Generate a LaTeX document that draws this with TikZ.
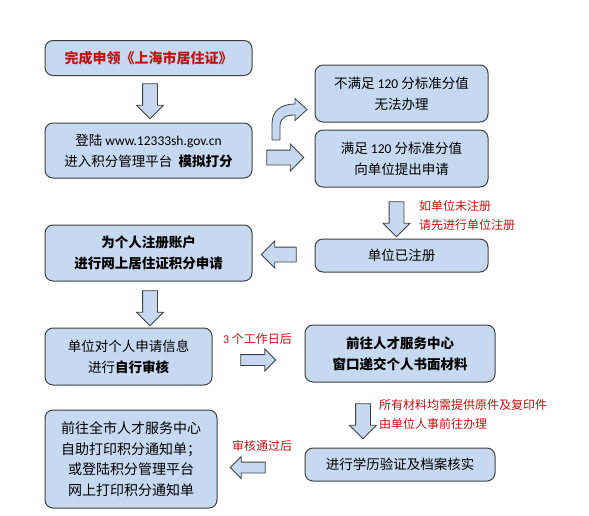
\documentclass[tikz,border=0pt]{standalone}
\usepackage{fontspec}
\setmainfont{Noto Sans CJK SC}
\newfontfamily\lat{Carlito}
\usetikzlibrary{shapes.arrows}
\definecolor{boxblue}{RGB}{198,217,241}
\definecolor{boxline}{RGB}{64,64,64}
\definecolor{notered}{RGB}{190,20,20}
\newcommand{\boxfont}{\fontsize{13.5}{21}\selectfont}
\newcommand{\notefont}{\fontsize{12}{19}\selectfont}

\begin{document}
\begin{tikzpicture}[x=1pt, y=-1pt,
    stepbox/.style={draw=boxline, fill=boxblue, rounded corners=8pt, line width=1pt,
        align=center, inner sep=0pt, font=\boxfont},
    blockarrow/.style={single arrow, draw=boxline, fill=boxblue, line width=0.8pt,
        inner xsep=0pt, inner ysep=7pt, single arrow head extend=6pt, minimum height=35pt,
        shape border uses incircle=false},
    thinarrow/.style={blockarrow, inner ysep=5pt, single arrow head extend=5.5pt},
    note/.style={text=notered, font=\notefont, align=left, anchor=west, inner sep=0pt}]
    \useasboundingbox (0,0) rectangle (589,515);

    % Boxes
    \node[stepbox, minimum width=207pt, minimum height=35pt, text=notered,
        font=\fontsize{14}{21}\selectfont] (start) at (148.5,58)
        {\bfseries 完成申领《上海市居住证》};
    \node[stepbox, minimum width=207pt, minimum height=55pt] (login) at (148.5,150.5)
        {登陆 {\lat www.12333sh.gov.cn}\\进入积分管理平台\ \ \textbf{模拟打分}};
    \node[stepbox, minimum width=173pt, minimum height=57pt] (fail) at (401.5,93.5)
        {不满足 {\lat 120} 分标准分值\\无法办理};
    \node[stepbox, minimum width=173pt, minimum height=57pt] (pass) at (401.5,158.5)
        {满足 {\lat 120} 分标准分值\\向单位提出申请};
    \node[stepbox, minimum width=173pt, minimum height=33pt] (unit) at (401.5,255.5)
        {单位已注册};
    \node[stepbox, minimum width=207pt, minimum height=56pt] (account) at (148.5,253)
        {\bfseries 为个人注册账户\\\bfseries 进行网上居住证积分申请};
    \node[stepbox, minimum width=167pt, minimum height=57pt] (selfcheck) at (128.5,356.5)
        {单位对个人申请信息\\进行\textbf{自行审核}};
    \node[stepbox, minimum width=190pt, minimum height=57pt] (submit) at (400,353.5)
        {\bfseries 前往人才服务中心\\\bfseries 窗口递交个人书面材料};
    \node[stepbox, minimum width=190pt, minimum height=33pt] (verify) at (400,464.5)
        {进行学历验证及档案核实};
    \node[stepbox, minimum width=172pt, minimum height=98pt, font=\fontsize{14}{20.5}\selectfont] (print) at (131,459)
        {前往全市人才服务中心\\自助打印积分通知单；\\或登陆积分管理平台\\网上打印积分通知单};

    % Block arrows
    \node[blockarrow, rotate=-90] (a1) at (150,97.5) {};
    \node[blockarrow, minimum height=37pt] (a2) at (281.5,157.5) {};
    \node[blockarrow, rotate=-90] (a3) at (396.5,215.5) {};
    \node[blockarrow, rotate=180] (a4) at (282.5,254.5) {};
    \node[blockarrow, rotate=-90] (a5) at (150,304.5) {};
    \node[thinarrow] (a6) at (255.5,360) {};
    \node[blockarrow, rotate=-90] (a7) at (363,417.5) {};
    \node[thinarrow, rotate=180] (a8) at (250.5,467.5) {};

    % Curved arrow
    \draw[draw=boxline, fill=boxblue, line width=0.8pt, line join=miter]
        (272,140) -- (272,124) .. controls (272,110) and (282,104) .. (295,104)
        -- (295,98.5) -- (307,109.5) -- (295,120.5) -- (295,115)
        .. controls (287,115) and (280,117) .. (280,126) -- (280,140) -- cycle;

    % Notes
    \node[note] (n1) at (419,215) {如单位未注册\\请先进行单位注册};
    \node[note] (n2) at (223,339) {{\lat 3} 个工作日后};
    \node[note] (n3) at (379,414) {所有材料均需提供原件及复印件\\由单位人事前往办理};
    \node[note] (n4) at (232,446) {审核通过后};
\end{tikzpicture}
\end{document}
